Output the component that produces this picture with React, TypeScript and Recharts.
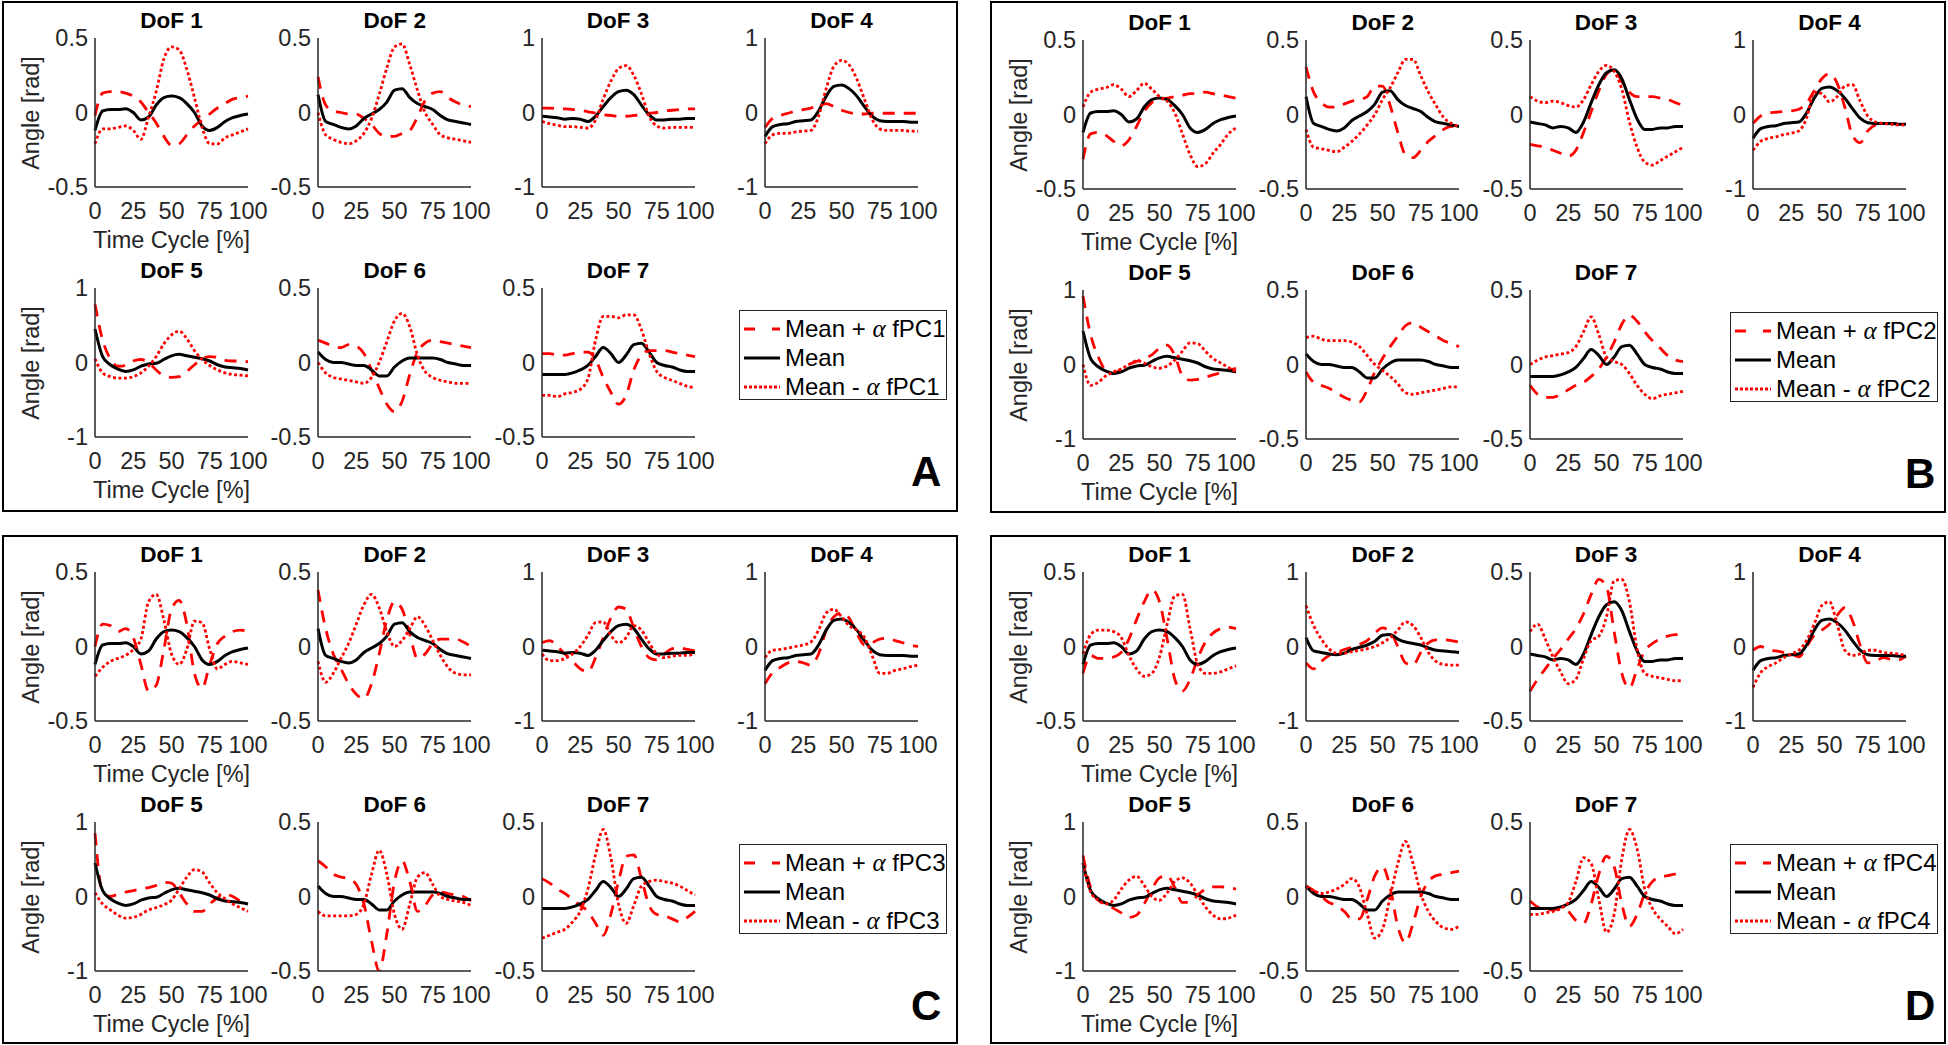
import React from "react";
import { Line, LineChart, XAxis, YAxis } from "recharts";

// time axis, % of the cycle
const timeCycle = [0, 5, 10, 15, 20, 25, 30, 35, 40, 45, 50, 55, 60, 65, 70, 75, 80, 85, 90, 95, 100];
const xTicks = [0, 25, 50, 75, 100];

// mean curves (same in every panel)
const meanDof1 = [-0.12, 0.01, 0.02, 0.02, 0.025, 0.0, -0.05, -0.03, 0.05, 0.1, 0.11, 0.1, 0.06, 0.0, -0.09, -0.12, -0.1, -0.06, -0.035, -0.02, -0.01];
const meanDof2 = [0.12, -0.06, -0.08, -0.1, -0.11, -0.09, -0.04, -0.01, 0.02, 0.07, 0.15, 0.16, 0.1, 0.06, 0.04, 0.02, -0.02, -0.05, -0.06, -0.07, -0.08];
const meanDof3 = [-0.05, -0.06, -0.07, -0.09, -0.08, -0.09, -0.12, -0.05, 0.08, 0.2, 0.28, 0.3, 0.24, 0.1, -0.03, -0.1, -0.1, -0.09, -0.09, -0.08, -0.08];
const meanDof4 = [-0.32, -0.19, -0.16, -0.15, -0.12, -0.11, -0.1, 0.02, 0.22, 0.35, 0.37, 0.32, 0.22, 0.08, -0.05, -0.11, -0.12, -0.12, -0.12, -0.13, -0.13];
const meanDof5 = [0.45, 0.08, -0.03, -0.09, -0.12, -0.1, -0.05, -0.02, -0.01, 0.04, 0.09, 0.11, 0.09, 0.07, 0.05, 0.02, -0.03, -0.06, -0.07, -0.08, -0.1];
const meanDof6 = [0.07, 0.02, 0.0, 0.0, -0.01, -0.02, -0.02, -0.05, -0.09, -0.09, -0.03, 0.01, 0.03, 0.03, 0.03, 0.03, 0.02, 0.0, -0.01, -0.02, -0.02];
const meanDof7 = [-0.08, -0.08, -0.08, -0.08, -0.07, -0.05, -0.02, 0.04, 0.1, 0.06, 0.0, 0.05, 0.12, 0.13, 0.07, 0.0, -0.02, -0.03, -0.05, -0.06, -0.06];

// fPC1
const fpc1PlusDof1 = [-0.02, 0.13, 0.14, 0.14, 0.13, 0.11, 0.07, 0.0, -0.07, -0.16, -0.22, -0.21, -0.15, -0.09, -0.05, -0.01, 0.03, 0.06, 0.09, 0.1, 0.11];
const fpc1MinusDof1 = [-0.21, -0.11, -0.11, -0.1, -0.09, -0.12, -0.18, -0.03, 0.14, 0.36, 0.44, 0.42, 0.29, 0.1, -0.1, -0.21, -0.21, -0.17, -0.15, -0.13, -0.11];
const fpc1PlusDof2 = [0.24, 0.05, 0.01, 0.0, -0.01, -0.01, -0.04, -0.08, -0.14, -0.16, -0.16, -0.14, -0.12, -0.03, 0.08, 0.13, 0.14, 0.1, 0.07, 0.05, 0.04];
const fpc1MinusDof2 = [0.0, -0.15, -0.18, -0.2, -0.21, -0.19, -0.14, -0.04, 0.12, 0.3, 0.44, 0.46, 0.32, 0.15, 0.0, -0.08, -0.15, -0.17, -0.18, -0.19, -0.2];
const fpc1PlusDof3 = [0.06, 0.06, 0.05, 0.05, 0.04, 0.03, 0.01, -0.01, -0.03, -0.04, -0.05, -0.05, -0.04, -0.03, -0.01, 0.0, 0.02, 0.03, 0.04, 0.05, 0.05];
const fpc1MinusDof3 = [-0.12, -0.15, -0.17, -0.19, -0.19, -0.2, -0.21, -0.1, 0.18, 0.42, 0.59, 0.63, 0.5, 0.25, -0.05, -0.18, -0.21, -0.2, -0.2, -0.2, -0.2];
const fpc1PlusDof4 = [-0.2, -0.08, -0.04, -0.01, 0.02, 0.04, 0.06, 0.09, 0.12, 0.08, 0.03, 0.0, -0.02, -0.02, -0.01, -0.01, -0.01, -0.01, -0.01, -0.01, -0.01];
const fpc1MinusDof4 = [-0.42, -0.3, -0.28, -0.28, -0.26, -0.25, -0.24, -0.05, 0.32, 0.62, 0.7, 0.64, 0.45, 0.18, -0.09, -0.22, -0.24, -0.24, -0.24, -0.25, -0.25];
const fpc1PlusDof5 = [0.78, 0.3, 0.05, -0.05, -0.04, 0.02, 0.04, 0.0, -0.1, -0.18, -0.2, -0.19, -0.12, -0.03, 0.05, 0.08, 0.07, 0.03, 0.02, 0.02, 0.01];
const fpc1MinusDof5 = [0.05, -0.14, -0.19, -0.21, -0.21, -0.19, -0.14, -0.05, 0.08, 0.25, 0.37, 0.42, 0.32, 0.16, 0.04, -0.04, -0.1, -0.14, -0.16, -0.17, -0.18];
const fpc1PlusDof6 = [0.15, 0.13, 0.11, 0.1, 0.12, 0.11, 0.06, -0.05, -0.17, -0.28, -0.33, -0.26, -0.08, 0.07, 0.13, 0.15, 0.14, 0.13, 0.12, 0.11, 0.1];
const fpc1MinusDof6 = [0.0, -0.07, -0.1, -0.11, -0.12, -0.13, -0.14, -0.1, 0.0, 0.14, 0.28, 0.33, 0.24, 0.05, -0.06, -0.1, -0.12, -0.13, -0.14, -0.14, -0.14];
const fpc1PlusDof7 = [0.06, 0.06, 0.05, 0.05, 0.06, 0.07, 0.07, 0.02, -0.1, -0.2, -0.28, -0.22, -0.05, 0.05, 0.08, 0.08, 0.08, 0.07, 0.06, 0.05, 0.04];
const fpc1MinusDof7 = [-0.22, -0.22, -0.23, -0.21, -0.2, -0.18, -0.11, 0.15, 0.31, 0.31, 0.3, 0.32, 0.32, 0.22, 0.06, -0.06, -0.1, -0.12, -0.14, -0.16, -0.17];

// fPC2
const fpc2PlusDof1 = [-0.3, -0.13, -0.12, -0.14, -0.18, -0.21, -0.17, -0.08, 0.02, 0.08, 0.1, 0.11, 0.12, 0.13, 0.14, 0.14, 0.15, 0.14, 0.13, 0.12, 0.11];
const fpc2MinusDof1 = [0.05, 0.15, 0.17, 0.18, 0.2, 0.17, 0.12, 0.16, 0.21, 0.17, 0.12, 0.09, 0.01, -0.13, -0.27, -0.35, -0.33, -0.26, -0.2, -0.13, -0.09];
const fpc2PlusDof2 = [0.32, 0.15, 0.08, 0.05, 0.05, 0.07, 0.09, 0.1, 0.12, 0.19, 0.19, 0.06, -0.12, -0.27, -0.29, -0.24, -0.18, -0.14, -0.1, -0.08, -0.08];
const fpc2MinusDof2 = [-0.1, -0.22, -0.23, -0.24, -0.25, -0.22, -0.18, -0.13, -0.07, 0.0, 0.1, 0.18, 0.28, 0.37, 0.37, 0.26, 0.15, 0.06, -0.02, -0.06, -0.08];
const fpc2PlusDof3 = [-0.2, -0.21, -0.22, -0.24, -0.26, -0.28, -0.24, -0.12, 0.02, 0.16, 0.27, 0.3, 0.22, 0.15, 0.12, 0.12, 0.12, 0.11, 0.1, 0.08, 0.06];
const fpc2MinusDof3 = [0.12, 0.09, 0.08, 0.09, 0.08, 0.06, 0.05, 0.1, 0.2, 0.29, 0.33, 0.29, 0.17, -0.05, -0.22, -0.32, -0.34, -0.31, -0.28, -0.25, -0.22];
const fpc2PlusDof4 = [-0.12, -0.02, 0.02, 0.03, 0.04, 0.05, 0.07, 0.15, 0.32, 0.48, 0.55, 0.42, 0.1, -0.28, -0.38, -0.22, -0.14, -0.12, -0.12, -0.12, -0.12];
const fpc2MinusDof4 = [-0.48, -0.36, -0.32, -0.3, -0.27, -0.25, -0.22, -0.05, 0.3, 0.28, 0.17, 0.24, 0.38, 0.4, 0.18, -0.02, -0.1, -0.12, -0.13, -0.14, -0.14];
const fpc2PlusDof5 = [0.92, 0.4, 0.1, -0.08, -0.12, -0.06, 0.0, 0.04, 0.08, 0.13, 0.22, 0.26, 0.12, -0.15, -0.21, -0.2, -0.17, -0.14, -0.11, -0.08, -0.05];
const fpc2MinusDof5 = [0.0, -0.28, -0.24, -0.15, -0.1, -0.06, 0.0, 0.05, 0.02, -0.03, -0.05, -0.02, 0.06, 0.18, 0.29, 0.28, 0.18, 0.08, 0.02, -0.04, -0.1];
const fpc2PlusDof6 = [-0.05, -0.12, -0.14, -0.16, -0.19, -0.22, -0.24, -0.25, -0.17, -0.05, 0.04, 0.12, 0.19, 0.26, 0.28, 0.25, 0.22, 0.19, 0.16, 0.14, 0.12];
const fpc2MinusDof6 = [0.18, 0.19, 0.17, 0.16, 0.16, 0.16, 0.15, 0.12, 0.06, 0.0, -0.04, -0.08, -0.13, -0.19, -0.2, -0.19, -0.18, -0.17, -0.16, -0.15, -0.15];
const fpc2PlusDof7 = [-0.14, -0.2, -0.22, -0.22, -0.2, -0.17, -0.14, -0.12, -0.08, -0.03, 0.05, 0.15, 0.27, 0.33, 0.29, 0.22, 0.16, 0.11, 0.06, 0.03, 0.02];
const fpc2MinusDof7 = [0.0, 0.03, 0.05, 0.06, 0.07, 0.08, 0.12, 0.22, 0.32, 0.2, 0.05, 0.02, 0.0, -0.06, -0.14, -0.2, -0.23, -0.21, -0.2, -0.19, -0.18];

// fPC3
const fpc3PlusDof1 = [0.0, 0.15, 0.14, 0.1, 0.12, 0.06, -0.12, -0.3, -0.26, -0.02, 0.25, 0.31, 0.15, -0.18, -0.28, -0.12, 0.02, 0.07, 0.1, 0.11, 0.1];
const fpc3MinusDof1 = [-0.2, -0.14, -0.1, -0.08, -0.06, -0.02, 0.05, 0.3, 0.35, 0.18, -0.05, -0.12, -0.02, 0.17, 0.16, -0.02, -0.15, -0.12, -0.1, -0.11, -0.12];
const fpc3PlusDof2 = [0.38, 0.12, -0.05, -0.15, -0.25, -0.32, -0.35, -0.25, -0.05, 0.18, 0.3, 0.25, 0.08, -0.08, -0.05, 0.02, 0.05, 0.05, 0.05, 0.03, 0.0];
const fpc3MinusDof2 = [-0.1, -0.24, -0.18, -0.08, 0.02, 0.15, 0.28, 0.35, 0.26, 0.1, 0.0, 0.04, 0.12, 0.2, 0.14, 0.04, -0.06, -0.14, -0.18, -0.19, -0.19];
const fpc3PlusDof3 = [0.05, 0.08, 0.0, -0.1, -0.2, -0.3, -0.34, -0.15, 0.12, 0.38, 0.53, 0.5, 0.25, 0.0, -0.15, -0.18, -0.1, -0.03, -0.02, -0.04, -0.06];
const fpc3MinusDof3 = [-0.1, -0.19, -0.19, -0.16, -0.1, 0.0, 0.15, 0.32, 0.33, 0.15, 0.05, 0.12, 0.28, 0.22, 0.05, -0.1, -0.15, -0.13, -0.12, -0.12, -0.1];
const fpc3PlusDof4 = [-0.5, -0.35, -0.28, -0.22, -0.2, -0.22, -0.25, -0.1, 0.22, 0.4, 0.45, 0.38, 0.18, 0.02, 0.05, 0.1, 0.11, 0.08, 0.05, 0.02, 0.0];
const fpc3MinusDof4 = [-0.15, -0.05, -0.04, -0.02, 0.0, 0.02, 0.06, 0.22, 0.45, 0.5, 0.4, 0.28, 0.22, 0.12, -0.12, -0.36, -0.36, -0.32, -0.3, -0.27, -0.25];
const fpc3PlusDof5 = [0.85, 0.05, 0.0, 0.03, 0.06, 0.08, 0.1, 0.12, 0.15, 0.19, 0.18, 0.05, -0.1, -0.2, -0.2, -0.1, -0.02, 0.03, 0.0, -0.06, -0.08];
const fpc3MinusDof5 = [0.05, -0.1, -0.18, -0.25, -0.29, -0.28, -0.24, -0.18, -0.15, -0.11, -0.05, 0.1, 0.26, 0.36, 0.33, 0.18, 0.05, -0.03, -0.1, -0.15, -0.2];
const fpc3PlusDof6 = [0.24, 0.2, 0.15, 0.13, 0.12, 0.08, -0.05, -0.3, -0.5, -0.25, 0.1, 0.24, 0.1, -0.1, -0.06, 0.01, 0.03, 0.02, 0.01, 0.0, -0.03];
const fpc3MinusDof6 = [-0.1, -0.13, -0.13, -0.13, -0.13, -0.12, -0.05, 0.15, 0.31, 0.15, -0.12, -0.22, -0.05, 0.13, 0.16, 0.08, 0.0, -0.02, -0.03, -0.04, -0.06];
const fpc3PlusDof7 = [0.12, 0.09, 0.05, 0.02, -0.02, -0.06, -0.1, -0.18, -0.26, -0.12, 0.1, 0.27, 0.28, 0.12, -0.06, -0.12, -0.13, -0.15, -0.17, -0.14, -0.1];
const fpc3MinusDof7 = [-0.28, -0.26, -0.24, -0.22, -0.17, -0.1, 0.05, 0.28, 0.45, 0.26, -0.05, -0.18, -0.06, 0.07, 0.1, 0.11, 0.1, 0.09, 0.07, 0.04, 0.01];

// fPC4
const fpc4PlusDof1 = [-0.18, -0.06, -0.08, -0.08, -0.07, -0.04, 0.05, 0.18, 0.3, 0.38, 0.3, 0.05, -0.22, -0.3, -0.22, -0.08, 0.03, 0.09, 0.12, 0.13, 0.12];
const fpc4MinusDof1 = [-0.05, 0.08, 0.11, 0.11, 0.1, 0.06, -0.06, -0.15, -0.2, -0.18, -0.07, 0.15, 0.34, 0.35, 0.12, -0.12, -0.18, -0.18, -0.17, -0.15, -0.13];
const fpc4PlusDof2 = [-0.22, -0.3, -0.2, -0.12, -0.08, -0.04, -0.01, 0.03, 0.08, 0.18, 0.25, 0.2, 0.0, -0.22, -0.25, -0.08, 0.05, 0.09, 0.09, 0.08, 0.06];
const fpc4MinusDof2 = [0.55, 0.28, 0.1, -0.03, -0.09, -0.09, -0.07, -0.05, -0.03, 0.0, 0.05, 0.12, 0.22, 0.33, 0.28, 0.12, -0.08, -0.2, -0.24, -0.25, -0.25];
const fpc4PlusDof3 = [-0.3, -0.22, -0.15, -0.08, -0.02, 0.05, 0.12, 0.22, 0.35, 0.45, 0.4, 0.1, -0.18, -0.28, -0.15, -0.03, 0.02, 0.05, 0.07, 0.08, 0.08];
const fpc4MinusDof3 = [0.1, 0.15, 0.05, -0.07, -0.17, -0.25, -0.22, -0.08, 0.04, 0.07, 0.2, 0.44, 0.45, 0.3, -0.02, -0.18, -0.2, -0.21, -0.22, -0.23, -0.23];
const fpc4PlusDof4 = [-0.05, 0.0, -0.04, -0.06, -0.08, -0.1, -0.14, 0.0, 0.15, 0.22, 0.3, 0.42, 0.52, 0.35, 0.02, -0.22, -0.2, -0.15, -0.17, -0.18, -0.13];
const fpc4MinusDof4 = [-0.55, -0.35, -0.27, -0.22, -0.15, -0.1, -0.05, 0.08, 0.3, 0.55, 0.6, 0.3, -0.05, -0.12, -0.1, -0.05, -0.05, -0.08, -0.09, -0.1, -0.12];
const fpc4PlusDof5 = [0.55, 0.12, -0.05, -0.1, -0.16, -0.22, -0.28, -0.25, -0.1, 0.1, 0.25, 0.28, 0.12, -0.08, -0.08, 0.02, 0.1, 0.13, 0.13, 0.12, 0.1];
const fpc4MinusDof5 = [0.45, 0.06, -0.05, -0.1, -0.05, 0.1, 0.22, 0.27, 0.15, 0.0, -0.05, 0.05, 0.2, 0.25, 0.18, 0.02, -0.14, -0.25, -0.3, -0.29, -0.25];
const fpc4PlusDof6 = [0.07, 0.04, 0.0, -0.04, -0.06, -0.1, -0.15, -0.15, -0.02, 0.14, 0.2, 0.06, -0.2, -0.31, -0.18, 0.0, 0.1, 0.14, 0.15, 0.16, 0.17];
const fpc4MinusDof6 = [0.07, 0.04, 0.02, 0.03, 0.05, 0.08, 0.12, 0.06, -0.12, -0.28, -0.22, 0.0, 0.22, 0.37, 0.22, 0.02, -0.1, -0.17, -0.21, -0.22, -0.2];
const fpc4PlusDof7 = [-0.03, -0.07, -0.09, -0.09, -0.08, -0.1, -0.16, -0.18, -0.05, 0.15, 0.27, 0.2, -0.05, -0.2, -0.12, 0.02, 0.1, 0.13, 0.14, 0.15, 0.15];
const fpc4MinusDof7 = [-0.12, -0.12, -0.11, -0.1, -0.08, -0.04, 0.1, 0.26, 0.22, -0.02, -0.24, -0.12, 0.25, 0.45, 0.32, 0.05, -0.08, -0.15, -0.2, -0.25, -0.22];

const means = [meanDof1, meanDof2, meanDof3, meanDof4, meanDof5, meanDof6, meanDof7];

const panels = [
  {
    letter: "A", pc: "fPC1", x: 0, y: 0,
    frame: { left: 2, top: 1, width: 956, height: 511 },
    legendLeft: 739, letterLeft: 911,
    ranges: [0.5, 0.5, 1, 1, 1, 0.5, 0.5],
    plus: [fpc1PlusDof1, fpc1PlusDof2, fpc1PlusDof3, fpc1PlusDof4, fpc1PlusDof5, fpc1PlusDof6, fpc1PlusDof7],
    minus: [fpc1MinusDof1, fpc1MinusDof2, fpc1MinusDof3, fpc1MinusDof4, fpc1MinusDof5, fpc1MinusDof6, fpc1MinusDof7],
  },
  {
    letter: "B", pc: "fPC2", x: 988, y: 2,
    frame: { left: 990, top: 1, width: 956, height: 512 },
    legendLeft: 1730, letterLeft: 1905,
    ranges: [0.5, 0.5, 0.5, 1, 1, 0.5, 0.5],
    plus: [fpc2PlusDof1, fpc2PlusDof2, fpc2PlusDof3, fpc2PlusDof4, fpc2PlusDof5, fpc2PlusDof6, fpc2PlusDof7],
    minus: [fpc2MinusDof1, fpc2MinusDof2, fpc2MinusDof3, fpc2MinusDof4, fpc2MinusDof5, fpc2MinusDof6, fpc2MinusDof7],
  },
  {
    letter: "C", pc: "fPC3", x: 0, y: 534,
    frame: { left: 2, top: 535, width: 956, height: 509 },
    legendLeft: 739, letterLeft: 911,
    ranges: [0.5, 0.5, 1, 1, 1, 0.5, 0.5],
    plus: [fpc3PlusDof1, fpc3PlusDof2, fpc3PlusDof3, fpc3PlusDof4, fpc3PlusDof5, fpc3PlusDof6, fpc3PlusDof7],
    minus: [fpc3MinusDof1, fpc3MinusDof2, fpc3MinusDof3, fpc3MinusDof4, fpc3MinusDof5, fpc3MinusDof6, fpc3MinusDof7],
  },
  {
    letter: "D", pc: "fPC4", x: 988, y: 534,
    frame: { left: 990, top: 535, width: 956, height: 509 },
    legendLeft: 1730, letterLeft: 1905,
    ranges: [0.5, 1, 0.5, 1, 1, 0.5, 0.5],
    plus: [fpc4PlusDof1, fpc4PlusDof2, fpc4PlusDof3, fpc4PlusDof4, fpc4PlusDof5, fpc4PlusDof6, fpc4PlusDof7],
    minus: [fpc4MinusDof1, fpc4MinusDof2, fpc4MinusDof3, fpc4MinusDof4, fpc4MinusDof5, fpc4MinusDof6, fpc4MinusDof7],
  },
];

const FONT = '"Liberation Sans", Arial, Helvetica, sans-serif';
const INK = "#262626";
const RED = "#ff0000";
const FS = 23.5;
const PLOT_W = 153;
const PLOT_H = 149;
const AXIS_W = 64;
const TOP_PAD = 12;
const RIGHT_PAD = 28;
const X_AXIS_H = 44;
const COL_X = [95, 318.3, 541.6, 765];
const ROW_Y = [38, 288];

const tickStyle = { fill: INK, fontSize: FS, fontFamily: FONT };
const axisStyle = { stroke: INK, strokeWidth: 1.5 };

function DofPlot({ left, top, title, range, mean, plus, minus, firstCol }: any) {
  const data = timeCycle.map((t, i) => ({ t, plus: plus[i], mean: mean[i], minus: minus[i] }));
  return (
    <>
      <div style={{ position: "absolute", left, top: top - 28, width: PLOT_W, textAlign: "center", font: `bold 22.5px/22px ${FONT}`, color: "#000" }}>
        {title}
      </div>
      <div style={{ position: "absolute", left: left - AXIS_W, top: top - TOP_PAD }}>
        <LineChart
          width={AXIS_W + PLOT_W + RIGHT_PAD}
          height={TOP_PAD + PLOT_H + X_AXIS_H}
          data={data}
          margin={{ top: TOP_PAD, right: RIGHT_PAD, bottom: 0, left: 0 }}
        >
          <XAxis dataKey="t" type="number" domain={[0, 100]} ticks={xTicks} interval={0} height={X_AXIS_H}
            tickLine={false} tickSize={0} tickMargin={15} axisLine={axisStyle} tick={tickStyle} />
          <YAxis type="number" domain={[-range, range]} ticks={[-range, 0, range]} interval={0} width={AXIS_W}
            tickLine={false} tickSize={0} tickMargin={7} axisLine={axisStyle} tick={tickStyle}
            tickFormatter={(v: number) => String(v)} allowDataOverflow />
          <Line type="monotone" dataKey="plus" stroke={RED} strokeWidth={2.8} strokeDasharray="12 9" dot={false} isAnimationActive={false} />
          <Line type="monotone" dataKey="mean" stroke="#000" strokeWidth={3} dot={false} isAnimationActive={false} />
          <Line type="monotone" dataKey="minus" stroke={RED} strokeWidth={2.8} strokeDasharray="3 2.5" dot={false} isAnimationActive={false} />
        </LineChart>
      </div>
      {firstCol && (
        <>
          <div style={{ position: "absolute", left: left - 164, top: top + PLOT_H / 2 - 12, width: 200, textAlign: "center",
            font: `${FS}px/24px ${FONT}`, color: INK, transform: "rotate(-90deg)" }}>
            Angle [rad]
          </div>
          <div style={{ position: "absolute", left: left - 30, top: top + PLOT_H + 41, width: PLOT_W + 60, textAlign: "center",
            font: `${FS}px/24px ${FONT}`, color: INK }}>
            Time Cycle [%]
          </div>
        </>
      )}
    </>
  );
}

const alpha = <i style={{ fontFamily: '"Liberation Serif", serif', fontSize: 25 }}>α</i>;

function PcLegend({ left, top, pc }: any) {
  const rows = [
    { text: <>Mean + {alpha} {pc}</>, color: RED, dash: "11 17" },
    { text: <>Mean</>, color: "#000", dash: undefined },
    { text: <>Mean - {alpha} {pc}</>, color: RED, dash: "3 2" },
  ];
  return (
    <div style={{ position: "absolute", left, top, width: 208, height: 90, boxSizing: "border-box",
      border: `1.5px solid ${INK}`, background: "#fff" }}>
      {rows.map((r, i) => (
        <div key={i} style={{ position: "absolute", left: 4, top: 5 + i * 29, height: 26, display: "flex", alignItems: "center" }}>
          <svg width={36} height={6} style={{ display: "block" }}>
            <line x1={0} y1={3} x2={36} y2={3} stroke={r.color} strokeWidth={3} strokeDasharray={r.dash} />
          </svg>
          <span style={{ marginLeft: 5, font: `24px/26px ${FONT}`, color: "#000", whiteSpace: "nowrap" }}>{r.text}</span>
        </div>
      ))}
    </div>
  );
}

export default function App() {
  return (
    <div style={{ position: "relative", width: 1948, height: 1045, background: "#fff", overflow: "hidden" }}>
      <style>{"body{margin:0}"}</style>
      {panels.map((p) => (
        <React.Fragment key={p.letter}>
          <div style={{ position: "absolute", ...p.frame, boxSizing: "border-box", border: "2px solid #000" }} />
          {means.map((m, d) => {
            const row = d < 4 ? 0 : 1;
            const col = d < 4 ? d : d - 4;
            return (
              <DofPlot key={d} left={p.x + COL_X[col]} top={p.y + ROW_Y[row]} title={`DoF ${d + 1}`}
                range={p.ranges[d]} mean={m} plus={p.plus[d]} minus={p.minus[d]} firstCol={col === 0} />
            );
          })}
          <PcLegend left={p.legendLeft} top={p.y + 310} pc={p.pc} />
          <div style={{ position: "absolute", left: p.letterLeft, top: p.y + 451, font: `bold 42px/42px ${FONT}`, color: "#000" }}>
            {p.letter}
          </div>
        </React.Fragment>
      ))}
    </div>
  );
}
